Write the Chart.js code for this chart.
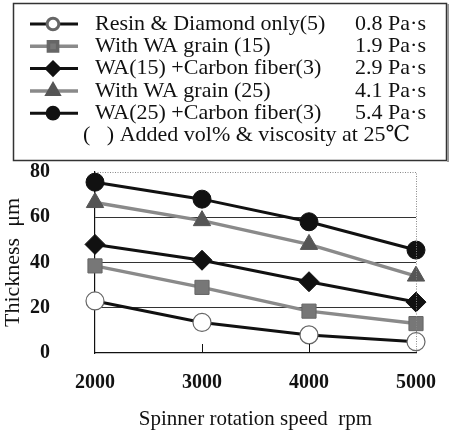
<!DOCTYPE html>
<html>
<head>
<meta charset="utf-8">
<script src="https://cdn.jsdelivr.net/npm/chart.js@4/dist/chart.umd.min.js"></script>
<style>
  html, body { margin: 0; padding: 0; background: #fff; }
  #wrap { width: 454px; height: 437px; }
</style>
</head>
<body>
<div id="wrap"><canvas id="chart"></canvas></div>
<script>
// data
const speeds = [2000, 3000, 4000, 5000];
const resinOnly = [23, 13.5, 8, 5];
const wa15 = [38.5, 29, 18.5, 13];
const wa15Cf = [48, 41, 31.5, 22.5];
const wa25 = [66.5, 58.5, 48, 34];
const wa25Cf = [75.5, 68, 58, 45.5];

const seriesNames = [
  "Resin & Diamond only(5)",
  "With WA grain (15)",
  "WA(15) +Carbon fiber(3)",
  "With WA grain (25)",
  "WA(25) +Carbon fiber(3)"
];
const viscosity = ["0.8 Pa\u00b7s", "1.9 Pa\u00b7s", "2.9 Pa\u00b7s", "4.1 Pa\u00b7s", "5.4 Pa\u00b7s"];
const note = "(   ) Added vol% & viscosity at 25\u2103";
const yTicks = [0, 20, 40, 60, 80];

const serif = '"Liberation Serif", "DejaVu Serif", serif';

function pts(arr) {
  return speeds.map((s, i) => ({ x: s, y: arr[i] }));
}

const datasets = [
  { label: seriesNames[0], data: pts(resinOnly), borderColor: "#111", borderWidth: 3,
    pointStyle: "circle", pointRadius: 9, backgroundColor: "#fff", pointBorderColor: "#666", pointBorderWidth: 1.2 },
  { label: seriesNames[1], data: pts(wa15), borderColor: "#8a8a8a", borderWidth: 3.5,
    pointStyle: "rect", pointRadius: 10, backgroundColor: "#777", pointBorderColor: "#666", pointBorderWidth: 1 },
  { label: seriesNames[2], data: pts(wa15Cf), borderColor: "#111", borderWidth: 3,
    pointStyle: "rectRot", pointRadius: 10, backgroundColor: "#111", pointBorderColor: "#111", pointBorderWidth: 1 },
  { label: seriesNames[3], data: pts(wa25), borderColor: "#8a8a8a", borderWidth: 3.5,
    pointStyle: "triangle", pointRadius: 10, backgroundColor: "#555", pointBorderColor: "#555", pointBorderWidth: 1 },
  { label: seriesNames[4], data: pts(wa25Cf), borderColor: "#111", borderWidth: 3,
    pointStyle: "circle", pointRadius: 9, backgroundColor: "#111", pointBorderColor: "#111", pointBorderWidth: 1 }
];
datasets.forEach(d => { d.pointBackgroundColor = d.backgroundColor; d.clip = false; });

// legend box, frame and inner ticks
const extras = {
  id: "extras",
  afterDraw(chart) {
    const ctx = chart.ctx;
    const area = chart.chartArea;
    const xs = chart.scales.x;
    ctx.save();

    // dotted top / right frame
    ctx.strokeStyle = "#888";
    ctx.lineWidth = 1;
    ctx.setLineDash([1, 1.5]);
    ctx.beginPath();
    ctx.moveTo(area.left, area.top + 0.5);
    ctx.lineTo(area.right + 0.5, area.top + 0.5);
    ctx.lineTo(area.right + 0.5, area.bottom);
    ctx.stroke();
    ctx.setLineDash([]);

    // short tick marks pointing up
    ctx.strokeStyle = "#111";
    [3000, 4000].forEach(v => {
      const x = Math.round(xs.getPixelForValue(v)) + 0.5;
      ctx.beginPath();
      ctx.moveTo(x, area.bottom);
      ctx.lineTo(x, area.bottom - 9);
      ctx.stroke();
    });

    // legend
    ctx.strokeStyle = "#333";
    ctx.lineWidth = 1.5;
    ctx.strokeRect(13.5, 3.5, 433, 157);
    ctx.strokeStyle = "#999";
    ctx.lineWidth = 2;
    ctx.beginPath();
    ctx.moveTo(448, 4);
    ctx.lineTo(448, 162);
    ctx.stroke();

    ctx.font = "22px " + serif;
    ctx.textBaseline = "middle";
    chart.data.datasets.forEach((ds, i) => {
      const y = 24 + i * 22.3;
      ctx.strokeStyle = ds.borderColor;
      ctx.lineWidth = ds.borderWidth;
      ctx.beginPath();
      ctx.moveTo(30, y);
      ctx.lineTo(78, y);
      ctx.stroke();
      ctx.fillStyle = ds.backgroundColor;
      ctx.strokeStyle = ds.pointBorderColor;
      Chart.helpers.drawPoint(ctx, {
        pointStyle: ds.pointStyle, radius: ds.pointRadius * 0.65,
        rotation: 0, borderWidth: ds.pointBorderWidth
      }, 53, y);
      ctx.fillStyle = "#111";
      ctx.textAlign = "left";
      ctx.fillText(ds.label, 95, y);
      ctx.textAlign = "right";
      ctx.fillText(viscosity[i], 426, y);
    });
    ctx.textAlign = "left";
    ctx.fillText(note, 83, 24 + 5 * 22.3);
    ctx.restore();
  }
};

new Chart(document.getElementById("chart"), {
  type: "line",
  data: { datasets },
  plugins: [extras],
  options: {
    responsive: true,
    maintainAspectRatio: false,
    animation: false,
    layout: { padding: { top: 172, right: 22, left: 0, bottom: 0 } },
    plugins: { legend: { display: false }, tooltip: { enabled: false } },
    scales: {
      x: {
        type: "linear",
        min: speeds[0],
        max: speeds[speeds.length - 1],
        afterFit: s => { s.height = 84; },
        afterBuildTicks: s => { s.ticks = speeds.map(v => ({ value: v })); },
        grid: { display: false, drawTicks: false },
        border: { color: "#111", width: 1.2 },
        ticks: {
          padding: 18, color: "#111",
          font: { family: serif, size: 20, weight: "bold" },
          callback: v => String(v)
        },
        title: {
          display: true, text: "Spinner rotation speed  rpm", color: "#111",
          font: { family: serif, size: 21 }, padding: { top: 0, bottom: 5 }
        }
      },
      y: {
        min: 0,
        max: 80,
        afterFit: s => { s.width = 95; },
        afterBuildTicks: s => { s.ticks = yTicks.map(v => ({ value: v })); },
        grid: {
          drawTicks: false,
          color: c => (c.tick && (c.tick.value === 80 || c.tick.value === 0)) ? "rgba(0,0,0,0)" : "#333",
          lineWidth: 1
        },
        border: { color: "#111", width: 1.2 },
        ticks: {
          padding: 45, color: "#111",
          font: { family: serif, size: 20, weight: "bold" }
        },
        title: {
          display: true, text: "Thickness  \u03bcm", color: "#111",
          font: { family: serif, size: 22 }, padding: 0
        }
      }
    }
  }
});
</script>
</body>
</html>
